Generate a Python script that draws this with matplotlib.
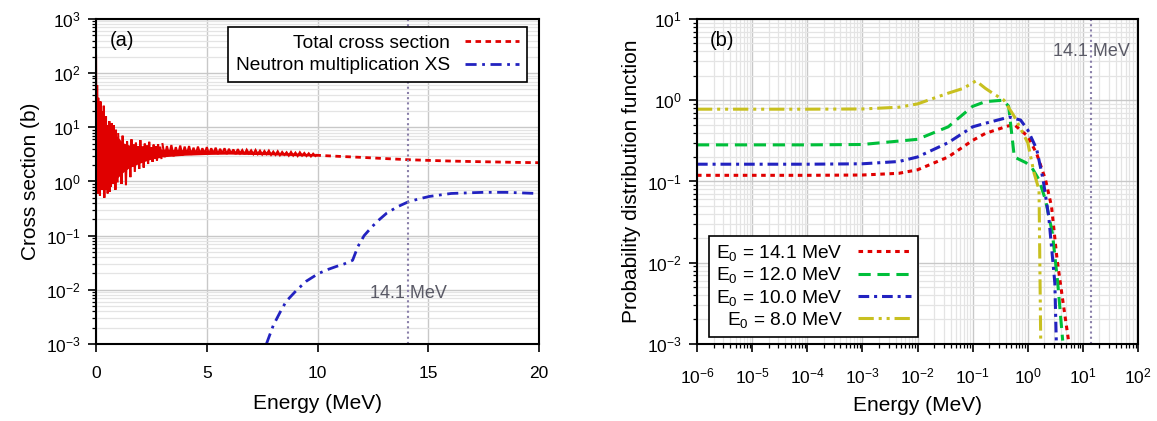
import numpy as np
import matplotlib
matplotlib.use("Agg")
import matplotlib.pyplot as plt
from matplotlib.ticker import LogLocator, NullFormatter, FixedLocator

plt.rcParams["font.family"] = ["Liberation Sans", "DejaVu Sans"]
plt.rcParams["mathtext.fontset"] = "custom"
plt.rcParams["mathtext.rm"] = "Liberation Sans"
plt.rcParams["mathtext.it"] = "Liberation Sans:italic"

# ---------------- (a) cross sections ----------------
# resolved-resonance region in three sampling blocks
res_e_a = np.arange(0.0, 1.0, 0.025)
res_xs_a = [210, 0.7, 60, 0.6, 35, 0.8, 18, 0.55, 30, 1.2,
            20, 0.7, 14, 0.9, 25, 0.5, 12, 1.0, 16, 0.7,
            11, 0.6, 9, 1.1, 13, 0.65, 9, 0.8, 12, 1.3,
            8, 0.9, 11, 1.2, 7, 0.7, 9, 1.4, 6, 1.0]
res_e_b = np.arange(1.0, 3.0, 0.05)
res_xs_b = [7.5, 1.3, 5.0, 0.9, 7.0, 1.6, 4.5, 0.85, 5.5, 1.8,
            4.2, 1.2, 6.0, 1.9, 4.8, 1.5, 5.2, 2.1, 4.5, 1.7,
            5.8, 2.2, 4.4, 1.8, 5.0, 2.4, 4.6, 2.1, 5.4, 2.5,
            4.3, 2.3, 4.8, 2.6, 4.5, 2.4, 4.9, 2.7, 4.4, 2.7]
res_e_c = np.arange(3.0, 10.0, 0.1)
res_xs_c = [4.9, 2.8, 4.5, 3.0, 4.7, 2.9, 4.3, 3.1, 4.6, 3.0,
            4.4, 3.2, 4.5, 3.1, 4.2, 3.2, 4.4, 3.2, 4.1, 3.3,
            4.3, 3.2, 4.1, 3.3, 4.2, 3.2, 4.0, 3.3, 4.1, 3.2,
            4.0, 3.3, 3.9, 3.2, 3.95, 3.3, 3.8, 3.2, 3.85, 3.3,
            3.75, 3.2, 3.8, 3.2, 3.7, 3.15, 3.65, 3.2, 3.7, 3.1,
            3.55, 3.1, 3.6, 3.05, 3.5, 3.1, 3.45, 3.0, 3.5, 3.0,
            3.4, 2.95, 3.45, 3.0, 3.35, 2.95, 3.3, 2.9, 3.25, 2.95]
# band that the dense resonances fill solid
band_e = [0.0, 0.1, 0.3, 0.5, 0.8, 1.0, 1.2, 1.5, 2.0, 2.5, 3.0, 4.0,
          5.0, 6.0, 7.0, 8.0, 9.0, 9.9]
band_hi = [30, 18, 14, 11, 8, 6.5, 5.2, 4.7, 4.3, 4.1, 3.95, 3.85,
           3.75, 3.65, 3.55, 3.45, 3.35, 3.25]
band_lo = [0.75, 0.8, 0.85, 0.9, 1.0, 1.2, 1.45, 1.8, 2.2, 2.6, 2.85, 3.05,
           3.15, 3.2, 3.15, 3.1, 3.0, 2.95]

tot_e = [9.9, 11.0, 12.0, 13.0, 14.1, 15.0, 16.0, 17.0, 18.0, 19.0, 20.0]
tot_xs = [3.05, 2.9, 2.78, 2.65, 2.52, 2.45, 2.38, 2.33, 2.29, 2.25, 2.22]

mult_e = [7.69, 8.0, 8.3, 8.58, 9.07, 9.5, 10.04, 10.5, 10.85, 11.2, 11.58,
          11.82, 12.1, 12.47, 12.8, 13.12, 13.6, 14.09, 14.6, 15.06, 16.03,
          17.0, 17.49, 18.5, 18.95, 19.9, 20.0]
mult_xs = [1e-3, 2.2e-3, 3.8e-3, 6.1e-3, 1.0e-2, 1.45e-2, 2.0e-2, 2.4e-2, 2.7e-2,
           3.0e-2, 3.5e-2, 6.3e-2, 0.1, 0.148, 0.2, 0.26, 0.34, 0.42, 0.48,
           0.53, 0.6, 0.62, 0.63, 0.63, 0.62, 0.6, 0.6]

# ---------------- (b) secondary neutron spectra ----------------
pdf_e_141 = [1e-6, 1e-4, 1e-3, 4.6e-3, 1e-2, 3.6e-2, 0.1, 0.17, 0.43, 0.57,
             1.0, 1.45, 2.1, 2.7, 3.4, 4.3, 5.6]
pdf_141 = [0.119, 0.119, 0.12, 0.126, 0.139, 0.2, 0.32, 0.39, 0.48, 0.5,
           0.36, 0.22, 0.105, 0.049, 0.011, 3.5e-3, 1e-3]

pdf_e_120 = [1e-6, 1e-4, 1e-3, 1e-2, 3.6e-2, 0.1, 0.17, 0.36, 0.45, 0.57,
             0.93, 1.2, 1.6, 2.1, 2.8, 3.5, 4.3]
pdf_120 = [0.282, 0.282, 0.285, 0.33, 0.47, 0.84, 0.96, 1.0, 0.84, 0.2,
           0.17, 0.146, 0.105, 0.059, 0.023, 5.6e-3, 1.1e-3]

pdf_e_100 = [1e-6, 1e-4, 1e-3, 4.6e-3, 1e-2, 3.6e-2, 0.1, 0.17, 0.46, 0.74,
             1.0, 1.45, 1.9, 2.4, 3.1, 3.3]
pdf_100 = [0.163, 0.163, 0.165, 0.176, 0.2, 0.3, 0.47, 0.52, 0.62, 0.57,
           0.43, 0.25, 0.105, 0.037, 5.6e-3, 1e-3]

pdf_e_80 = [1e-6, 1e-4, 1e-3, 4.6e-3, 1e-2, 3.6e-2, 0.068, 0.115, 0.17, 0.23,
            0.37, 0.57, 1.0, 1.3, 1.6, 1.72]
pdf_80 = [0.775, 0.775, 0.78, 0.82, 0.9, 1.22, 1.4, 1.73, 1.4, 1.22,
          1.0, 0.63, 0.3, 0.127, 0.079, 1e-3]

dt_energy = 14.1

red = "#e00000"
green = "#00bf3a"
blue = "#2222c0"
yellow = "#c8c020"
marker_col = "#8a80aa"
text_col = "#5a5a66"

fig = plt.figure(figsize=(11.57, 4.21), dpi=100)
ax1 = fig.add_axes([0.083, 0.183, 0.383, 0.772])
ax2 = fig.add_axes([0.6024, 0.183, 0.3812, 0.772])


def style_axes(ax):
    for s in ax.spines.values():
        s.set_linewidth(1.5)
        s.set_color("black")
    ax.tick_params(which="major", direction="out", length=6, width=1.2,
                   labelsize=12.5)
    ax.tick_params(axis="x", which="major", pad=10)
    ax.tick_params(axis="y", which="major", pad=5)
    ax.tick_params(which="minor", direction="out", length=3, width=0.9)
    ax.grid(which="major", color="#c8c8c8", lw=1.0)
    ax.grid(which="minor", color="#e4e4e4", lw=0.9)
    ax.set_axisbelow(True)


# panel (a)
ax1.fill_between(band_e, band_lo, band_hi, color=red, lw=0)
for e, xs in ((res_e_a, res_xs_a), (res_e_b, res_xs_b), (res_e_c, res_xs_c)):
    ax1.plot(e, xs, color=red, lw=1.5, solid_joinstyle="miter")
ax1.plot(tot_e, tot_xs, color=red, lw=2, dashes=(2, 1.6),
         label="Total cross section")
ax1.plot(mult_e, mult_xs, color=blue, lw=2, dashes=(4, 2, 1, 2),
         label="Neutron multiplication XS")
ax1.axvline(dt_energy, color=marker_col, lw=1.5, ls=(0, (1, 1.5)))
ax1.text(dt_energy, 8.5e-3, "14.1 MeV", color=text_col, fontsize=13,
         ha="center", va="center")
ax1.set_yscale("log")
ax1.set_xlim(0, 20)
ax1.set_ylim(1e-3, 1e3)
ax1.xaxis.set_major_locator(FixedLocator([0, 5, 10, 15, 20]))
ax1.yaxis.set_major_locator(LogLocator(base=10, numticks=20))
ax1.yaxis.set_minor_locator(LogLocator(base=10, subs=np.arange(2, 10), numticks=20))
ax1.yaxis.set_minor_formatter(NullFormatter())
style_axes(ax1)
ax1.set_xlabel("Energy (MeV)", fontsize=15, labelpad=9)
ax1.set_ylabel("Cross section (b)", fontsize=15, labelpad=4)
ax1.text(0.032, 0.935, "(a)", transform=ax1.transAxes, fontsize=14.5,
         ha="left", va="center")
leg1 = ax1.legend(loc="upper right", bbox_to_anchor=(0.972, 0.975),
                  markerfirst=False, fancybox=False, framealpha=1,
                  edgecolor="black", fontsize=13.8, handlelength=2.8,
                  borderpad=0.4, labelspacing=0.25, borderaxespad=0)
leg1.get_frame().set_linewidth(1.2)

# panel (b)
ax2.plot(pdf_e_141, pdf_141, color=red, lw=2.2, dashes=(1.5, 1.5),
         label="E$_0$ = 14.1 MeV")
ax2.plot(pdf_e_120, pdf_120, color=green, lw=2.2, dashes=(4, 2.2),
         label="E$_0$ = 12.0 MeV")
ax2.plot(pdf_e_100, pdf_100, color=blue, lw=2.2, dashes=(3.5, 1.6, 1, 1.6),
         label="E$_0$ = 10.0 MeV")
ax2.plot(pdf_e_80, pdf_80, color=yellow, lw=2.2,
         dashes=(5, 1.6, 1, 1.6, 1, 1.6), label="E$_0$ = 8.0 MeV")
ax2.axvline(dt_energy, color=marker_col, lw=1.5, ls=(0, (1, 1.5)))
ax2.text(dt_energy, 4.0, "14.1 MeV", color=text_col, fontsize=13,
         ha="center", va="center")
ax2.set_xscale("log")
ax2.set_yscale("log")
ax2.set_xlim(1e-6, 1e2)
ax2.set_ylim(1e-3, 1e1)
for axis in (ax2.xaxis, ax2.yaxis):
    axis.set_major_locator(LogLocator(base=10, numticks=20))
    axis.set_minor_locator(LogLocator(base=10, subs=np.arange(2, 10), numticks=20))
    axis.set_minor_formatter(NullFormatter())
style_axes(ax2)
ax2.set_xlabel("Energy (MeV)", fontsize=15, labelpad=7)
ax2.set_ylabel("Probability distribution function", fontsize=15, labelpad=4)
ax2.text(0.03, 0.935, "(b)", transform=ax2.transAxes, fontsize=14.5,
         ha="left", va="center")
leg2 = ax2.legend(loc="lower left", bbox_to_anchor=(0.028, 0.022),
                  markerfirst=False, fancybox=False, framealpha=1,
                  edgecolor="black", fontsize=13.8, handlelength=2.8,
                  borderpad=0.35, labelspacing=0.12, borderaxespad=0)
leg2.get_frame().set_linewidth(1.2)

fig.savefig("out.png", dpi=100)
